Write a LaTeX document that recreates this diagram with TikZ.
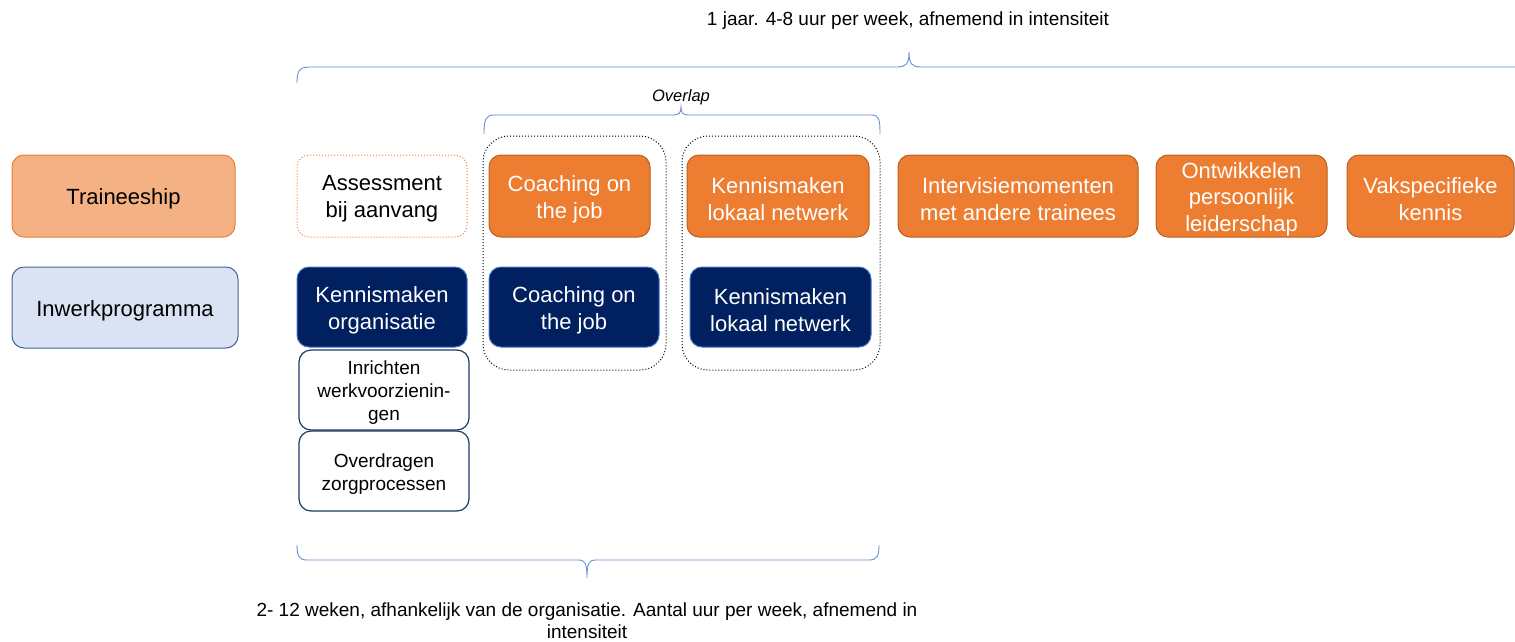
\documentclass[tikz,border=0pt]{standalone}
\usepackage{fontspec}
\setmainfont{Liberation Sans}
\definecolor{orfill}{HTML}{ED7D31}
\definecolor{ordraw}{HTML}{B9601F}
\definecolor{lightor}{HTML}{F4B183}
\definecolor{lightbl}{HTML}{DAE3F3}
\definecolor{bldraw}{HTML}{41639B}
\definecolor{navy}{HTML}{002060}
\definecolor{navyedge}{HTML}{4472C4}
\definecolor{whedge}{HTML}{1F3864}
\definecolor{brace}{HTML}{6A8FD0}
\newcommand{\bx}[1]{\raisebox{-3pt}[\height][\depth]{#1}}
\begin{document}
\begin{tikzpicture}[x=1pt,y=-1pt,
  box/.style={rounded corners=12pt, inner sep=0pt, align=center, line width=1pt,
    font=\fontsize{22}{27}\selectfont},
  smallbox/.style={box, font=\fontsize{19}{23}\selectfont, fill=white, draw=whedge, line width=1.2pt},
  orbox/.style={box, fill=orfill, draw=ordraw, text=white},
  navybox/.style={box, fill=navy, draw=navyedge, text=white},
  group/.style={rounded corners=26pt, draw=black, dotted, line width=1pt},
  bracel/.style={draw=brace, line width=0.9pt},
  lbl/.style={inner sep=0pt, align=center},
  boxtext/.style={lbl, yshift=-3pt}]
\useasboundingbox (0,0) rectangle (1515,641);

% overlap groups
\node[group, minimum width=183, minimum height=234] (g1) at (574.5,253) {};
\node[group, minimum width=198, minimum height=234] (g2) at (781,253) {};

% row labels
\node[box, fill=lightor, draw=orfill, minimum width=223, minimum height=82] (trainee) at (123.5,196) {};
\node[boxtext, font=\fontsize{22}{27}\selectfont] at (trainee.center) {Traineeship};
\node[box, fill=lightbl, draw=bldraw, minimum width=226, minimum height=81] (inwerk) at (125,307.5) {};
\node[boxtext, font=\fontsize{22}{27}\selectfont] at (inwerk.center) {Inwerkprogramma};

% traineeship row
\node[box, fill=white, draw=orfill, dotted, minimum width=170, minimum height=82] (assess) at (382,196) {};
\node[boxtext, font=\fontsize{22}{27}\selectfont] at (assess.center) {Assessment\\bij aanvang};
\node[orbox, minimum width=161, minimum height=82] (coach1) at (569.5,196) {};
\node[boxtext, text=white, font=\fontsize{22}{27}\selectfont] at (coach1.center) {Coaching on\\the job};
\node[orbox, minimum width=182, minimum height=82] (kenn1) at (778,196) {};
\node[boxtext, text=white, font=\fontsize{22}{27}\selectfont] at (kenn1.center) {Kennismaken\\lokaal netwerk};
\node[orbox, minimum width=240, minimum height=82] (intv) at (1018,196) {};
\node[boxtext, text=white, font=\fontsize{22}{27}\selectfont] at (intv.center) {Intervisiemomenten\\met andere trainees};
\node[orbox, minimum width=171, minimum height=82] (ontw) at (1241.5,196) {};
\node[boxtext, text=white, font=\fontsize{22}{26.5}\selectfont] at (ontw.center) {Ontwikkelen\\persoonlijk\\leiderschap};
\node[orbox, minimum width=167, minimum height=82] (vak) at (1430.5,196) {};
\node[boxtext, text=white, font=\fontsize{22}{27}\selectfont] at (vak.center) {Vakspecifieke\\kennis};

% inwerk row
\node[navybox, minimum width=170, minimum height=80] (korg) at (382,307) {};
\node[boxtext, text=white, font=\fontsize{22}{27}\selectfont] at (korg.center) {Kennismaken\\organisatie};
\node[navybox, minimum width=170, minimum height=80] (coach2) at (574,307) {};
\node[boxtext, text=white, font=\fontsize{22}{27}\selectfont] at (coach2.center) {Coaching on\\the job};
\node[navybox, minimum width=181, minimum height=80] (kenn2) at (780.5,307) {};
\node[boxtext, text=white, font=\fontsize{22}{27}\selectfont] at (kenn2.center) {Kennismaken\\lokaal netwerk};
\node[smallbox, minimum width=170, minimum height=80] (inr) at (384,390) {};
\node[boxtext, font=\fontsize{19}{23}\selectfont] at (inr.center) {Inrichten\\werkvoorzienin-\\gen};
\node[smallbox, minimum width=170, minimum height=80] (ovd) at (384,471) {};
\node[boxtext, font=\fontsize{19}{23}\selectfont] at (ovd.center) {Overdragen\\zorgprocessen};

% top brace
\draw[bracel] (297,83) .. controls (297,71) and (299,67) .. (310,67) -- (897,67)
  .. controls (906,67) and (909,64) .. (909,52)
  .. controls (909,64) and (912,67) .. (921,67) -- (1515,67);
\node[lbl, font=\fontsize{19}{23}\selectfont] (toptxt) at (908,21) {1 jaar. 4-8 uur per week, afnemend in intensiteit};

% overlap brace
\draw[bracel] (484,134) .. controls (484,119) and (486,115) .. (494,115) -- (673,115)
  .. controls (679,115) and (681,113) .. (681,107)
  .. controls (681,113) and (683,115) .. (689,115) -- (871,115)
  .. controls (879,115) and (880,119) .. (880,134);
\node[lbl, font=\fontsize{16.5}{20}\selectfont\itshape] (ovl) at (681,97) {Overlap};

% bottom brace
\draw[bracel] (297,545) .. controls (297,556) and (299,560) .. (307,560) -- (578,560)
  .. controls (585,560) and (587,563) .. (587,578)
  .. controls (587,563) and (589,560) .. (596,560) -- (869,560)
  .. controls (877,560) and (879,556) .. (879,545);
\node[lbl, font=\fontsize{19}{22}\selectfont] (bottxt) at (587,621) {2- 12 weken, afhankelijk van de organisatie. Aantal uur per week, afnemend in\\intensiteit};
\end{tikzpicture}
\end{document}
